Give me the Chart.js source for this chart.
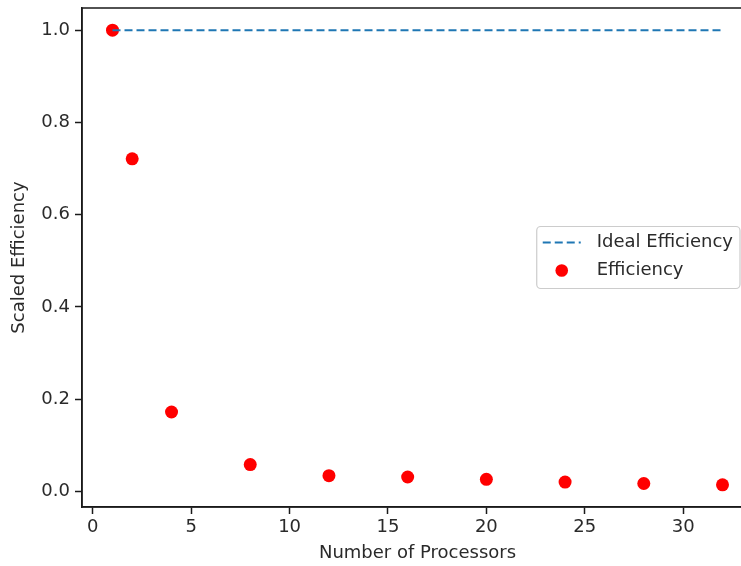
<!DOCTYPE html>
<html>
<head>
<meta charset="utf-8">
<script src="https://cdn.jsdelivr.net/npm/chart.js@4.4.0/dist/chart.umd.min.js"></script>
<style>
  html, body { margin: 0; padding: 0; background: #fff; overflow: hidden; width: 741px; height: 566px; }
  canvas { display: block; }
</style>
</head>
<body>
<canvas id="c" width="760" height="566"></canvas>
<script>
// ---- data ----
const processors = [1, 2, 4, 8, 12, 16, 20, 24, 28, 32];
const efficiency = [1.0, 0.721, 0.172, 0.058, 0.034, 0.031, 0.026, 0.020, 0.017, 0.014];
const idealEfficiency = [1, 1, 1, 1, 1, 1, 1, 1, 1, 1];
const xTickValues = [0, 5, 10, 15, 20, 25, 30];
const yTickValues = [0.0, 0.2, 0.4, 0.6, 0.8, 1.0];
const seriesNames = ['Ideal Efficiency', 'Efficiency'];
const xTitle = 'Number of Processors';
const yTitle = 'Scaled Efficiency';

const FONT = 'DejaVu Sans';
const FS = 18;
const TXT = '#2a2a2a';

const frame = {
  id: 'frame',
  beforeDatasetsDraw(chart) {
    const {ctx, chartArea: a} = chart;
    ctx.save();
    ctx.strokeStyle = '#1a1a1a';
    ctx.lineWidth = 1.5;
    ctx.strokeRect(a.left, a.top, a.right - a.left, a.bottom - a.top);
    ctx.restore();
  }
};

const legendBox = {
  id: 'legendBox',
  afterDatasetsDraw(chart) {
    const {ctx, chartArea: a} = chart;
    ctx.save();
    ctx.font = FS + 'px "' + FONT + '"';
    const tw = Math.max(...seriesNames.map(s => ctx.measureText(s).width));
    const padL = 6, hl = 38, htp = 16, padR = 7, rowH = 28;
    const w = padL + hl + htp + tw + padR;
    const h = 62;
    const right = a.right - 13;
    const left = right - w;
    const cy = (a.top + a.bottom) / 2;
    const top = cy - h / 2;
    ctx.beginPath();
    ctx.roundRect(left, top, w, h, 4);
    ctx.fillStyle = 'rgba(255,255,255,0.8)';
    ctx.fill();
    ctx.strokeStyle = '#cccccc';
    ctx.lineWidth = 1.2;
    ctx.stroke();
    const y1 = top + 16, y2 = y1 + rowH;
    const hx = left + padL;
    ctx.beginPath();
    ctx.setLineDash([8, 4]);
    ctx.strokeStyle = '#1f77b4';
    ctx.lineWidth = 2;
    ctx.moveTo(hx, y1); ctx.lineTo(hx + hl, y1);
    ctx.stroke();
    ctx.setLineDash([]);
    ctx.beginPath();
    ctx.fillStyle = '#ff0000';
    ctx.arc(hx + hl / 2, y2, 6.3, 0, Math.PI * 2);
    ctx.fill();
    ctx.fillStyle = TXT;
    ctx.textBaseline = 'middle';
    ctx.textAlign = 'left';
    ctx.fillText(seriesNames[0], hx + hl + htp, y1);
    ctx.fillText(seriesNames[1], hx + hl + htp, y2);
    ctx.restore();
  }
};

new Chart(document.getElementById('c'), {
  type: 'scatter',
  data: {
    datasets: [
      {
        type: 'line',
        label: seriesNames[0],
        data: processors.map((p, i) => ({x: p, y: idealEfficiency[i]})),
        borderColor: '#1f77b4',
        borderWidth: 2,
        borderDash: [8, 4],
        pointRadius: 0,
        fill: false,
        tension: 0
      },
      {
        label: seriesNames[1],
        data: processors.map((p, i) => ({x: p, y: efficiency[i]})),
        backgroundColor: '#ff0000',
        borderWidth: 0,
        pointRadius: 6.5,
        pointHoverRadius: 6.5
      }
    ]
  },
  options: {
    responsive: false,
    animation: false,
    devicePixelRatio: 1,
    layout: { padding: { top: 8, right: 7, left: 0, bottom: 0 } },
    plugins: { legend: { display: false }, tooltip: { enabled: false } },
    scales: {
      x: {
        type: 'linear',
        min: -0.55,
        max: 33.55,
        afterBuildTicks: s => { s.ticks = xTickValues.map(v => ({value: v})); },
        afterFit: s => { s.height = 59; s.paddingLeft = 0; s.paddingRight = 0; },
        grid: { drawOnChartArea: false, drawTicks: true, tickLength: 7, tickWidth: 1.5, tickColor: '#1a1a1a' },
        border: { display: true, color: '#1a1a1a', width: 1.5 },
        ticks: { font: { family: FONT, size: FS }, color: TXT, padding: 3, maxRotation: 0, autoSkip: false },
        title: { display: true, text: xTitle, font: { family: FONT, size: FS }, color: TXT, padding: { top: 0, bottom: 2 } }
      },
      y: {
        type: 'linear',
        min: -0.034,
        max: 1.048,
        afterBuildTicks: s => { s.ticks = yTickValues.map(v => ({value: v})); },
        afterFit: s => { s.width = 82; s.paddingTop = 0; s.paddingBottom = 0; },
        grid: { drawOnChartArea: false, drawTicks: true, tickLength: 7, tickWidth: 1.5, tickColor: '#1a1a1a' },
        border: { display: true, color: '#1a1a1a', width: 1.5 },
        ticks: { font: { family: FONT, size: FS }, color: TXT, padding: 5, callback: v => v.toFixed(1), autoSkip: false },
        title: { display: true, text: yTitle, font: { family: FONT, size: FS }, color: TXT, padding: { top: 9, bottom: 0 } }
      }
    }
  },
  plugins: [frame, legendBox]
});
</script>
</body>
</html>
